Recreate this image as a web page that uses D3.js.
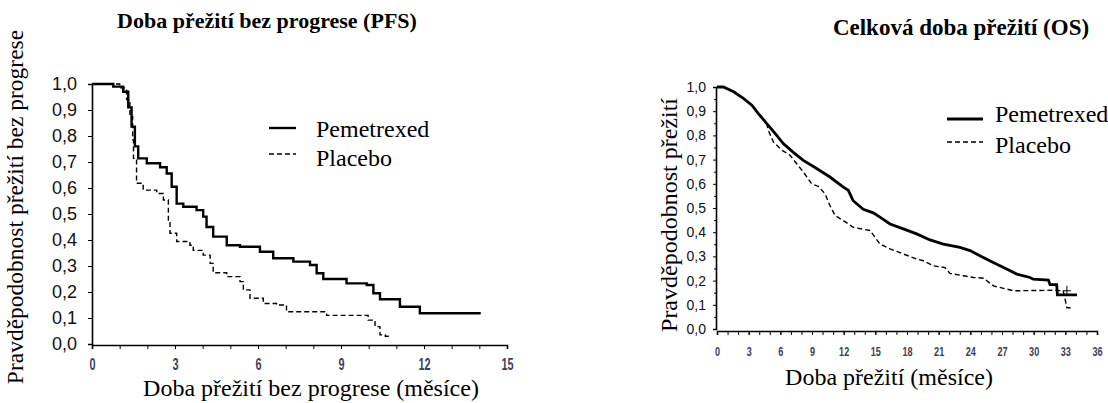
<!DOCTYPE html>
<html>
<head>
<meta charset="utf-8">
<script src="https://cdn.jsdelivr.net/npm/d3@7"></script>
<style>
  body { margin: 0; background: #fff; }
  svg { display: block; }
</style>
</head>
<body>
<svg></svg>
<script>
const width = 1108;
const height = 403;
let svg = d3.select("svg")
    .attr("width", width)
    .attr("height", height);

// PFS - mesice / pravdepodobnost
const pfsPemMonths = [0, 0.77, 1.13, 1.31, 1.43, 1.55, 1.67, 1.98, 2.46, 2.7, 2.88, 3.06, 3.3, 3.78, 4.02, 4.14, 4.38, 4.87, 5.35, 6.07, 6.55, 7.28, 7.88, 8.12, 8.36, 9.2, 9.93, 10.17, 10.41, 11.13, 11.85, 14.05];
const pfsPemSurv   = [1.0, 0.99, 0.97, 0.91, 0.836, 0.76, 0.714, 0.695, 0.68, 0.656, 0.605, 0.54, 0.528, 0.515, 0.49, 0.45, 0.413, 0.38, 0.374, 0.355, 0.33, 0.317, 0.304, 0.272, 0.25, 0.233, 0.227, 0.195, 0.172, 0.143, 0.118, 0.118];
const pfsPlaMonths = [0, 1.0, 1.25, 1.37, 1.47, 1.5, 1.61, 1.85, 2.34, 2.58, 2.76, 2.82, 3.06, 3.54, 3.66, 4.02, 4.27, 4.38, 4.87, 5.35, 5.47, 5.71, 6.19, 6.67, 7.03, 8.48, 9.98, 10.23, 10.41, 10.6, 10.83];
const pfsPlaSurv   = [1.0, 0.985, 0.94, 0.875, 0.785, 0.714, 0.618, 0.592, 0.579, 0.554, 0.477, 0.426, 0.394, 0.38, 0.36, 0.342, 0.31, 0.274, 0.259, 0.24, 0.208, 0.176, 0.156, 0.15, 0.124, 0.11, 0.092, 0.067, 0.035, 0.03, 0.03];

// OS - mesice / pravdepodobnost
const osPemMonths = [0, 0.6, 1.58, 2.5, 3.3, 3.9, 4.7, 5.5, 6.28, 7.23, 8.18, 9.44, 10.7, 11.97, 12.44, 12.9, 13.86, 14.8, 15.44, 16.39, 17.65, 18.92, 20.18, 21.44, 23.02, 23.97, 24.9, 26.17, 27.44, 28.4, 29.65, 29.97, 31.4, 31.55, 32.18, 32.25, 34.1];
const osPemSurv   = [1.0, 1.0, 0.98, 0.953, 0.925, 0.891, 0.85, 0.808, 0.766, 0.73, 0.697, 0.663, 0.628, 0.586, 0.573, 0.53, 0.495, 0.48, 0.462, 0.434, 0.414, 0.393, 0.368, 0.351, 0.337, 0.324, 0.303, 0.275, 0.248, 0.227, 0.213, 0.206, 0.202, 0.183, 0.183, 0.141, 0.141];
const osPlaMonths = [4.7, 4.87, 5.34, 6.13, 6.92, 7.55, 8.18, 8.97, 9.6, 10.23, 10.7, 11.18, 11.97, 12.92, 14.5, 15.44, 16.39, 17.65, 18.92, 19.55, 20.5, 21.6, 22.07, 23.34, 24.3, 25.25, 26.2, 28.1, 31.9, 32.8, 33.15, 33.6];
const osPlaSurv   = [0.85, 0.82, 0.773, 0.739, 0.718, 0.683, 0.649, 0.6, 0.589, 0.559, 0.51, 0.469, 0.448, 0.42, 0.407, 0.351, 0.331, 0.31, 0.289, 0.282, 0.261, 0.254, 0.23, 0.22, 0.213, 0.21, 0.178, 0.158, 0.16, 0.158, 0.088, 0.088];
// cenzurovani (placebo, OS)
const osPlaCensor = [{x: 33.15, y: 0.158}];

const yTickLabels = ["0,0", "0,1", "0,2", "0,3", "0,4", "0,5", "0,6", "0,7", "0,8", "0,9", "1,0"];
const seriesNames = ["Pemetrexed", "Placebo"];

const serif = "'Liberation Serif', 'Times New Roman', serif";
const sans = "'Liberation Sans', Arial, sans-serif";

function toPoints(months, surv) {
    return months.map((m, i) => ({x: m, y: surv[i]}));
}

// jeden graf
function drawPanel(p) {
    let g = svg.append("g");

    let x = d3.scaleLinear().domain([0, p.xMax]).range([p.x0, p.x1]);
    let y = d3.scaleLinear().domain([0, 1]).range([p.y0, p.y1]);

    // osa x - male tiky po 1 mesici
    g.append("g")
        .attr("transform", `translate(0, ${p.axisY})`)
        .call(d3.axisBottom(x).ticks(p.xMax).tickSize(4).tickFormat(""))
        .call(a => a.select(".domain").remove())
        .selectAll("line").attr("stroke", "#000");

    g.append("g")
        .attr("transform", `translate(0, ${p.axisY})`)
        .call(d3.axisBottom(x).tickValues(d3.range(0, p.xMax + 1, 3)).tickSize(4).tickPadding(p.xPad))
        .call(a => a.select(".domain").attr("stroke", "#000").attr("stroke-width", 1.6))
        .call(a => a.selectAll("line").attr("stroke", "#000"))
        .call(a => a.selectAll("text")
            .attr("transform", `scale(${p.xSquash}, 1)`)
            .style("font-family", sans)
            .style("font-weight", "bold")
            .style("font-size", p.xFont + "px")
            .attr("fill", "#3b4056"));

    // osa y
    let yAxis = g.append("g")
        .attr("transform", `translate(${p.axisX}, 0)`)
        .call(d3.axisLeft(y).tickValues(d3.range(0, 11).map(d => d / 10))
            .tickFormat((d, i) => yTickLabels[i]).tickSize(p.yTick).tickPadding(p.yPad));
    yAxis.select(".domain").attr("stroke", "#000").attr("stroke-width", 1.6);
    yAxis.selectAll("line").attr("stroke", "#000");
    yAxis.selectAll("text")
        .style("font-family", sans)
        .style("font-size", p.yFont + "px")
        .attr("fill", "#111");

    if (p.minorY) {
        g.append("g")
            .attr("transform", `translate(${p.axisX}, 0)`)
            .call(d3.axisLeft(y).tickValues(d3.range(0, 10).map(d => d / 10 + 0.05)).tickSize(2).tickFormat(""))
            .call(a => a.select(".domain").remove())
            .selectAll("line").attr("stroke", "#000");
    }

    let line = d3.line()
        .x(d => x(d.x))
        .y(d => y(d.y))
        .curve(p.curve);

    g.append("path")
        .attr("d", line(p.pem))
        .attr("fill", "none")
        .attr("stroke", "#000")
        .attr("stroke-width", p.pemWidth);

    g.append("path")
        .attr("d", line(p.pla))
        .attr("fill", "none")
        .attr("stroke", "#000")
        .attr("stroke-width", 1.4)
        .attr("stroke-dasharray", "5,3");

    // krizky cenzury
    (p.censor || []).forEach(c => {
        g.append("path")
            .attr("d", `M${x(c.x) - 4},${y(c.y)}h8M${x(c.x)},${y(c.y) - 5}v10`)
            .attr("stroke", "#000")
            .attr("stroke-width", 1);
    });

    // nadpis
    g.append("text")
        .attr("x", p.titleX)
        .attr("y", p.titleY)
        .attr("text-anchor", "middle")
        .style("font-family", serif)
        .style("font-weight", "bold")
        .style("font-size", p.titleFont + "px")
        .text(p.title);

    // popisky os
    g.append("text")
        .attr("x", p.xLabelX)
        .attr("y", p.xLabelY)
        .attr("text-anchor", "middle")
        .style("font-family", serif)
        .style("font-size", "24px")
        .text(p.xLabel);

    g.append("text")
        .attr("transform", `translate(${p.yLabelX}, ${p.yLabelY}) rotate(-90)`)
        .attr("text-anchor", "middle")
        .style("font-family", serif)
        .style("font-size", p.yLabelFont + "px")
        .text(p.yLabel);

    // legenda
    let leg = g.append("g");
    seriesNames.forEach((name, i) => {
        let ly = p.legLineY[i];
        leg.append("line")
            .attr("x1", p.legX).attr("x2", p.legX + p.legLen)
            .attr("y1", ly).attr("y2", ly)
            .attr("stroke", "#000")
            .attr("stroke-width", i == 0 ? p.pemWidth : 1.4)
            .attr("stroke-dasharray", i == 0 ? null : "5,3");
        leg.append("text")
            .attr("x", p.legTextX)
            .attr("y", p.legTextY[i])
            .style("font-family", serif)
            .style("font-size", "24px")
            .text(name);
    });
}

drawPanel({
    x0: 92, x1: 507, y0: 344, y1: 84, xMax: 15, axisX: 92, axisY: 345,
    xFont: 16, xSquash: 0.68, xPad: 10, yFont: 18, yTick: 4, yPad: 11, minorY: false,
    pem: toPoints(pfsPemMonths, pfsPemSurv),
    pla: toPoints(pfsPlaMonths, pfsPlaSurv),
    curve: d3.curveStepAfter, pemWidth: 2.4,
    title: "Doba přežití bez progrese (PFS)", titleX: 267, titleY: 28, titleFont: 22,
    xLabel: "Doba přežití bez progrese (měsíce)", xLabelX: 311, xLabelY: 396,
    yLabel: "Pravděpodobnost přežití bez progrese", yLabelX: 23, yLabelY: 207, yLabelFont: 23.5,
    legX: 269, legLen: 27, legTextX: 316, legLineY: [128, 154], legTextY: [137, 166]
});

drawPanel({
    x0: 717, x1: 1097, y0: 329, y1: 87, xMax: 36, axisX: 716, axisY: 331,
    xFont: 13, xSquash: 0.7, xPad: 12, yFont: 14, yTick: 3, yPad: 7, minorY: true,
    pem: toPoints(osPemMonths, osPemSurv),
    pla: toPoints(osPlaMonths, osPlaSurv),
    censor: osPlaCensor,
    curve: d3.curveLinear, pemWidth: 2.8,
    title: "Celková doba přežití (OS)", titleX: 961, titleY: 35, titleFont: 23,
    xLabel: "Doba přežití (měsíce)", xLabelX: 889, xLabelY: 385,
    yLabel: "Pravděpodobnost přežití", yLabelX: 677, yLabelY: 215, yLabelFont: 24,
    legX: 947, legLen: 36, legTextX: 995, legLineY: [119, 142], legTextY: [122, 153]
});
</script>
</body>
</html>
